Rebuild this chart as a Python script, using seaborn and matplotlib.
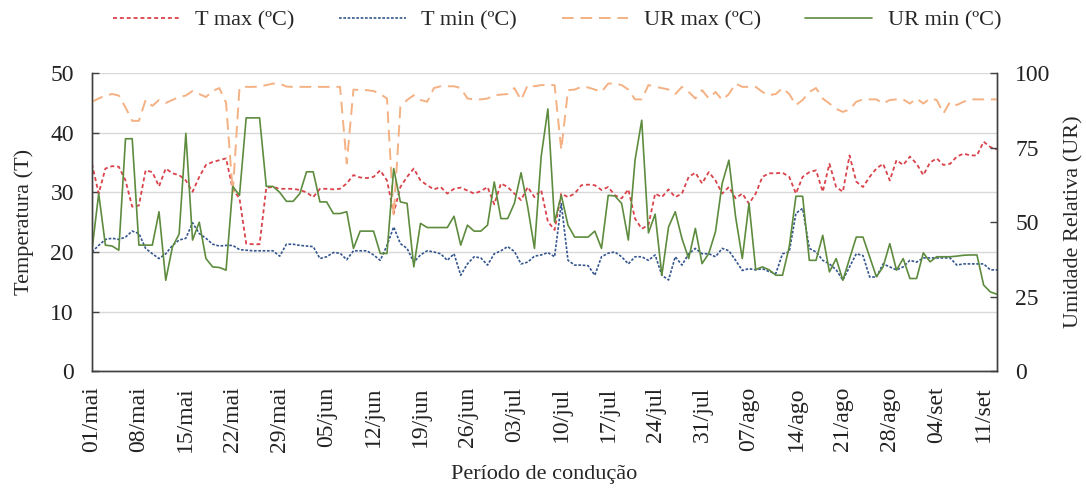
import numpy as np
import pandas as pd
import matplotlib
matplotlib.use('Agg')
import matplotlib.pyplot as plt
import seaborn as sns

sns.set_style('white')
plt.rcParams['font.family'] = ['Liberation Serif', 'DejaVu Serif']

# daily series, 01/mai .. 14/set
t_max = [34.8, 29.8, 34.0, 34.4, 34.3, 32.0, 27.6, 27.8, 33.7, 33.4,
         31.0, 34.0, 33.2, 32.9, 32.0, 30.1, 32.6, 34.6, 35.1, 35.4,
         35.7, 30.5, 29.0, 21.4, 21.3, 21.3, 30.8, 30.9, 30.6, 30.6,
         30.6, 30.4, 30.0, 29.2, 30.6, 30.6, 30.5, 30.6, 31.5, 32.9,
         32.5, 32.4, 32.6, 33.7, 32.0, 26.5, 30.9, 32.6, 34.0, 32.0,
         31.2, 30.5, 30.9, 29.8, 30.6, 30.8, 30.3, 29.8, 30.2, 30.9,
         28.0, 31.5, 30.9, 29.8, 28.7, 30.9, 29.2, 30.4, 25.1, 23.7,
         29.8, 29.2, 29.8, 31.2, 31.3, 31.2, 30.4, 30.9, 29.5, 29.0,
         30.5, 25.6, 23.9, 24.5, 29.8, 29.2, 30.5, 29.2, 29.8, 32.6,
         33.3, 31.5, 33.4, 32.0, 29.8, 30.9, 29.0, 29.8, 28.1, 29.8,
         32.6, 33.2, 33.2, 33.3, 32.6, 29.8, 32.6, 33.4, 33.7, 30.1,
         34.8, 30.9, 30.1, 36.2, 31.8, 30.9, 32.6, 34.0, 34.8, 32.0,
         35.4, 34.6, 36.0, 34.8, 32.9, 35.0, 35.7, 34.6, 34.8, 36.0,
         36.5, 36.2, 36.2, 38.5, 37.6, 37.2]

t_min = [20.0, 21.1, 22.1, 22.3, 22.1, 22.5, 23.5, 23.1, 20.6, 19.7,
         18.9, 19.7, 21.1, 22.0, 22.3, 24.9, 23.1, 22.3, 21.3, 21.0,
         21.1, 21.1, 20.4, 20.3, 20.2, 20.2, 20.2, 20.2, 19.3, 21.3,
         21.3, 21.1, 21.0, 20.9, 18.9, 19.2, 19.9, 19.8, 18.7, 20.2,
         20.2, 20.2, 19.5, 18.6, 21.1, 24.2, 21.4, 20.6, 18.3, 19.5,
         20.2, 20.0, 19.7, 18.6, 19.7, 16.1, 18.0, 19.2, 19.0, 17.8,
         19.7, 20.2, 20.9, 20.1, 18.0, 18.3, 19.3, 19.5, 19.9, 19.2,
         28.1, 18.6, 17.8, 17.8, 17.7, 16.1, 19.2, 19.8, 20.0, 19.2,
         18.0, 19.2, 19.2, 18.6, 19.5, 16.1, 15.3, 19.2, 17.8, 19.7,
         20.6, 19.7, 19.7, 19.2, 20.6, 20.2, 18.6, 16.9, 17.2, 17.0,
         17.2, 16.7, 16.4, 19.7, 20.0, 26.5, 27.3, 20.6, 20.0, 18.6,
         18.0, 17.0, 15.3, 17.5, 19.7, 19.4, 15.8, 15.8, 18.0, 17.5,
         17.0, 17.5, 18.6, 18.3, 19.0, 19.0, 19.0, 19.0, 19.0, 17.8,
         18.0, 18.0, 18.0, 18.0, 17.0, 17.0]

ur_max = [90.4, 91.5, 92.5, 93.0, 92.5, 88.5, 84.0, 84.0, 91.0, 89.0,
          91.0, 90.0, 91.0, 92.0, 92.5, 94.0, 93.0, 92.0, 94.0, 95.0,
          90.0, 60.0, 95.0, 95.4, 95.4, 95.5, 96.0, 96.5, 96.5, 95.5,
          95.4, 95.4, 95.4, 95.4, 95.4, 95.4, 95.4, 95.4, 69.7, 94.5,
          94.3, 94.3, 94.0, 93.0, 91.5, 52.0, 88.7, 91.0, 92.6, 91.0,
          90.4, 95.0, 95.6, 95.6, 95.6, 95.0, 91.5, 91.2, 91.2, 91.5,
          92.6, 92.8, 93.0, 95.0, 91.0, 96.0, 95.6, 96.0, 96.0, 96.0,
          74.2, 94.3, 94.5, 95.4, 95.2, 94.5, 93.7, 96.5, 96.5, 96.0,
          94.5, 91.2, 91.2, 96.0, 95.4, 95.0, 94.5, 93.0, 95.4, 93.7,
          91.5, 94.3, 91.5, 93.7, 91.0, 93.0, 96.5, 95.4, 95.4, 95.4,
          93.7, 92.6, 93.0, 95.0, 93.0, 89.3, 91.0, 93.7, 95.0, 91.5,
          89.8, 88.0, 87.0, 87.8, 90.4, 91.2, 91.2, 91.2, 89.8, 91.0,
          91.2, 91.2, 89.8, 91.5, 89.8, 91.5, 91.0, 86.5, 90.4, 89.3,
          90.4, 91.2, 91.2, 91.2, 91.2, 91.2]

ur_min = [40.6, 59.6, 42.3, 42.0, 40.6, 78.0, 78.0, 42.3, 42.3, 42.3,
          53.5, 30.5, 41.7, 46.0, 79.8, 44.0, 50.0, 37.8, 35.0, 34.8,
          33.9, 62.0, 59.0, 85.0, 85.0, 85.0, 62.0, 62.0, 60.0, 57.0,
          57.0, 59.6, 66.9, 66.9, 56.8, 56.8, 52.9, 52.9, 53.5, 41.2,
          47.0, 47.0, 47.0, 39.5, 39.5, 68.0, 56.8, 56.3, 35.0, 49.6,
          48.2, 48.2, 48.2, 48.2, 52.0, 42.3, 49.0, 47.0, 47.0, 49.0,
          63.5, 51.2, 51.2, 56.3, 66.6, 55.0, 41.2, 72.0, 88.0, 50.0,
          59.0, 49.0, 45.0, 45.0, 45.0, 47.0, 41.2, 59.0, 58.8, 56.3,
          44.0, 70.8, 84.2, 46.4, 52.7, 32.2, 48.4, 53.5, 44.5, 37.8,
          47.9, 36.1, 39.5, 46.8, 63.0, 70.8, 51.8, 37.8, 56.3, 34.1,
          35.0, 34.0, 32.2, 32.2, 41.7, 58.7, 58.7, 37.2, 37.2, 45.6,
          33.3, 37.8, 30.5, 37.8, 45.0, 45.0, 38.4, 31.7, 35.0, 42.8,
          33.9, 37.8, 31.1, 31.1, 39.7, 36.7, 38.4, 38.4, 38.4, 38.6,
          38.9, 39.0, 39.0, 28.9, 26.6, 25.8]

tick_labels = ['01/mai', '08/mai', '15/mai', '22/mai', '29/mai', '05/jun',
               '12/jun', '19/jun', '26/jun', '03/jul', '10/jul', '17/jul',
               '24/jul', '31/jul', '07/ago', '14/ago', '21/ago', '28/ago',
               '04/set', '11/set']

df = pd.DataFrame({'dia': np.arange(len(t_max)), 't_max': t_max, 't_min': t_min,
                   'ur_max': ur_max, 'ur_min': ur_min})

fig = plt.figure(figsize=(10.86, 4.91), dpi=100)
ax = fig.add_axes([0.0847, 0.244, 0.9181 - 0.0847, 0.607])
ax2 = ax.twinx()

sns.lineplot(data=df, x='dia', y='t_max', ax=ax, color='#d9434b', lw=1.3,
             linestyle=(0, (2.2, 1.6)), label='T max (ºC)', legend=False)
sns.lineplot(data=df, x='dia', y='t_min', ax=ax, color='#34568f', lw=1.2,
             linestyle=(0, (1.6, 1.0)), label='T min (ºC)', legend=False)
sns.lineplot(data=df, x='dia', y='ur_max', ax=ax2, color='#f4b183', lw=1.4,
             linestyle=(0, (6, 3.5)), label='UR max (ºC)', legend=False)
sns.lineplot(data=df, x='dia', y='ur_min', ax=ax2, color='#5e8c3e', lw=1.2,
             label='UR min (ºC)', legend=False)

ax.set_xlim(0, len(t_max) - 1)
ax.set_ylim(0, 50)
ax2.set_ylim(0, 100)
ax.set_yticks(range(0, 51, 10))
ax2.set_yticks(range(0, 101, 25))
ax.set_xticks(range(0, 7 * len(tick_labels), 7))
ax.set_xticklabels(tick_labels, rotation=90)

ax.yaxis.grid(True, color='#d9d9d9', lw=1.0)
ax.set_axisbelow(True)
for a in (ax, ax2):
    a.spines['top'].set_visible(False)
    for s in ('left', 'right', 'bottom'):
        a.spines[s].set_color('#404040')
        a.spines[s].set_linewidth(1.0)
    a.tick_params(direction='in', length=5, width=1.0, color='#404040',
                  labelsize=17, labelcolor='#222222')
ax.tick_params(axis='x', pad=11)
ax.tick_params(axis='y', pad=13)
ax2.tick_params(axis='y', pad=13)

ax.set_xlabel('Período de condução', fontsize=16, labelpad=9)
ax.set_ylabel('Temperatura (T)', fontsize=16, labelpad=12)
ax2.set_ylabel('Umidade Relativa (UR)', fontsize=16, labelpad=10)

h1, l1 = ax.get_legend_handles_labels()
h2, l2 = ax2.get_legend_handles_labels()
fig.legend(h1 + h2, l1 + l2, loc='upper center', bbox_to_anchor=(0.513, 1.02),
           ncol=4, frameon=False, fontsize=16, handlelength=3.0,
           columnspacing=2.0, handletextpad=0.7)

fig.savefig('out.png', dpi=100)
